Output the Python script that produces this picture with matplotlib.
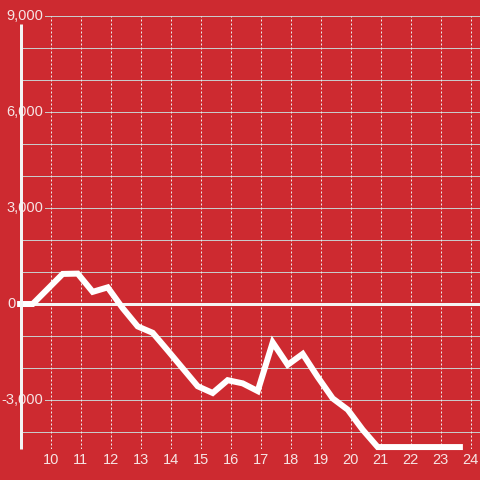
import matplotlib
matplotlib.use('Agg')
import matplotlib.pyplot as plt

# ---- data ----
hours = [8.88, 9.4, 9.9, 10.4, 10.9, 11.4, 11.9, 12.4, 12.9, 13.4, 13.9, 14.4,
         14.9, 15.4, 15.9, 16.4, 16.9, 17.4, 17.9, 18.4, 18.9, 19.4, 19.9,
         20.4, 20.9, 21.4, 21.9, 22.4, 22.9, 23.4, 23.74]
values = [0, 0, 470, 940, 950, 380, 520, -130, -700, -900, -1450, -2010,
          -2570, -2780, -2380, -2480, -2720, -1200, -1900, -1560, -2280, -2950,
          -3300, -3930, -4470, -4470, -4470, -4470, -4470, -4470, -4470]
x_ticks = list(range(10, 25))
y_ticks = [-3000, 0, 3000, 6000, 9000]
y_labels = ['-3,000', '0', '3,000', '6,000', '9,000']
grid_levels = list(range(-4000, 9001, 1000))

BG = '#cd2a30'
TXT = '#f6e4e4'
plt.rcParams['font.family'] = ['Liberation Sans', 'DejaVu Sans']

W = 480.0
fig = plt.figure(figsize=(4.8, 4.8), dpi=100, facecolor=BG)
left_px, top_px, bot_px = 20.7, 16.0, 448.5
ax = fig.add_axes([left_px / W, 1 - bot_px / W, 1 - left_px / W, (bot_px - top_px) / W])
ax.set_facecolor(BG)
ax.set_xlim(9, 9 + (W - left_px) / 30.0)
ax.set_ylim(-4515, 9000)
for s in ax.spines.values():
    s.set_visible(False)

px = 0.72  # one pixel in points
for g in grid_levels:
    if g == 0:
        continue
    ax.axhline(g, color='#c9c9c9', lw=1.0 * px, zorder=1)
for h in x_ticks:
    ax.axvline(h, color='#ececec', lw=1.0 * px, ls=(0, (2, 2)), zorder=1)

ax.axhline(0, color='#f4f4f4', lw=3 * px, zorder=2)
spine_top = (bot_px - 24.0) / (bot_px - top_px)
ax.axvline(9, ymin=0, ymax=spine_top, color='#f4f4f4', lw=3 * px,
           solid_capstyle='butt', zorder=7, clip_on=False)

ax.plot(hours, values, color='white', lw=6 * px, solid_capstyle='butt',
        solid_joinstyle='miter', zorder=6, clip_on=False)

for v, lab in zip(y_ticks, y_labels):
    if v == 0:
        xr = 9 + (15.5 - left_px) / 30.0
    else:
        xr = 9 + (43.0 - left_px) / 30.0
    ax.text(xr, v, lab, ha='right', va='center', fontsize=10.5, color=TXT, zorder=5,
            bbox=dict(boxstyle='square,pad=0.12', fc=BG, ec='none'))

ax.set_yticks([])
ax.set_xticks(x_ticks)
ax.set_xticklabels([str(t) for t in x_ticks])
ax.tick_params(axis='x', length=0, pad=3, labelsize=10.5, labelcolor=TXT)

fig.savefig('out.png', dpi=100, facecolor=BG)
